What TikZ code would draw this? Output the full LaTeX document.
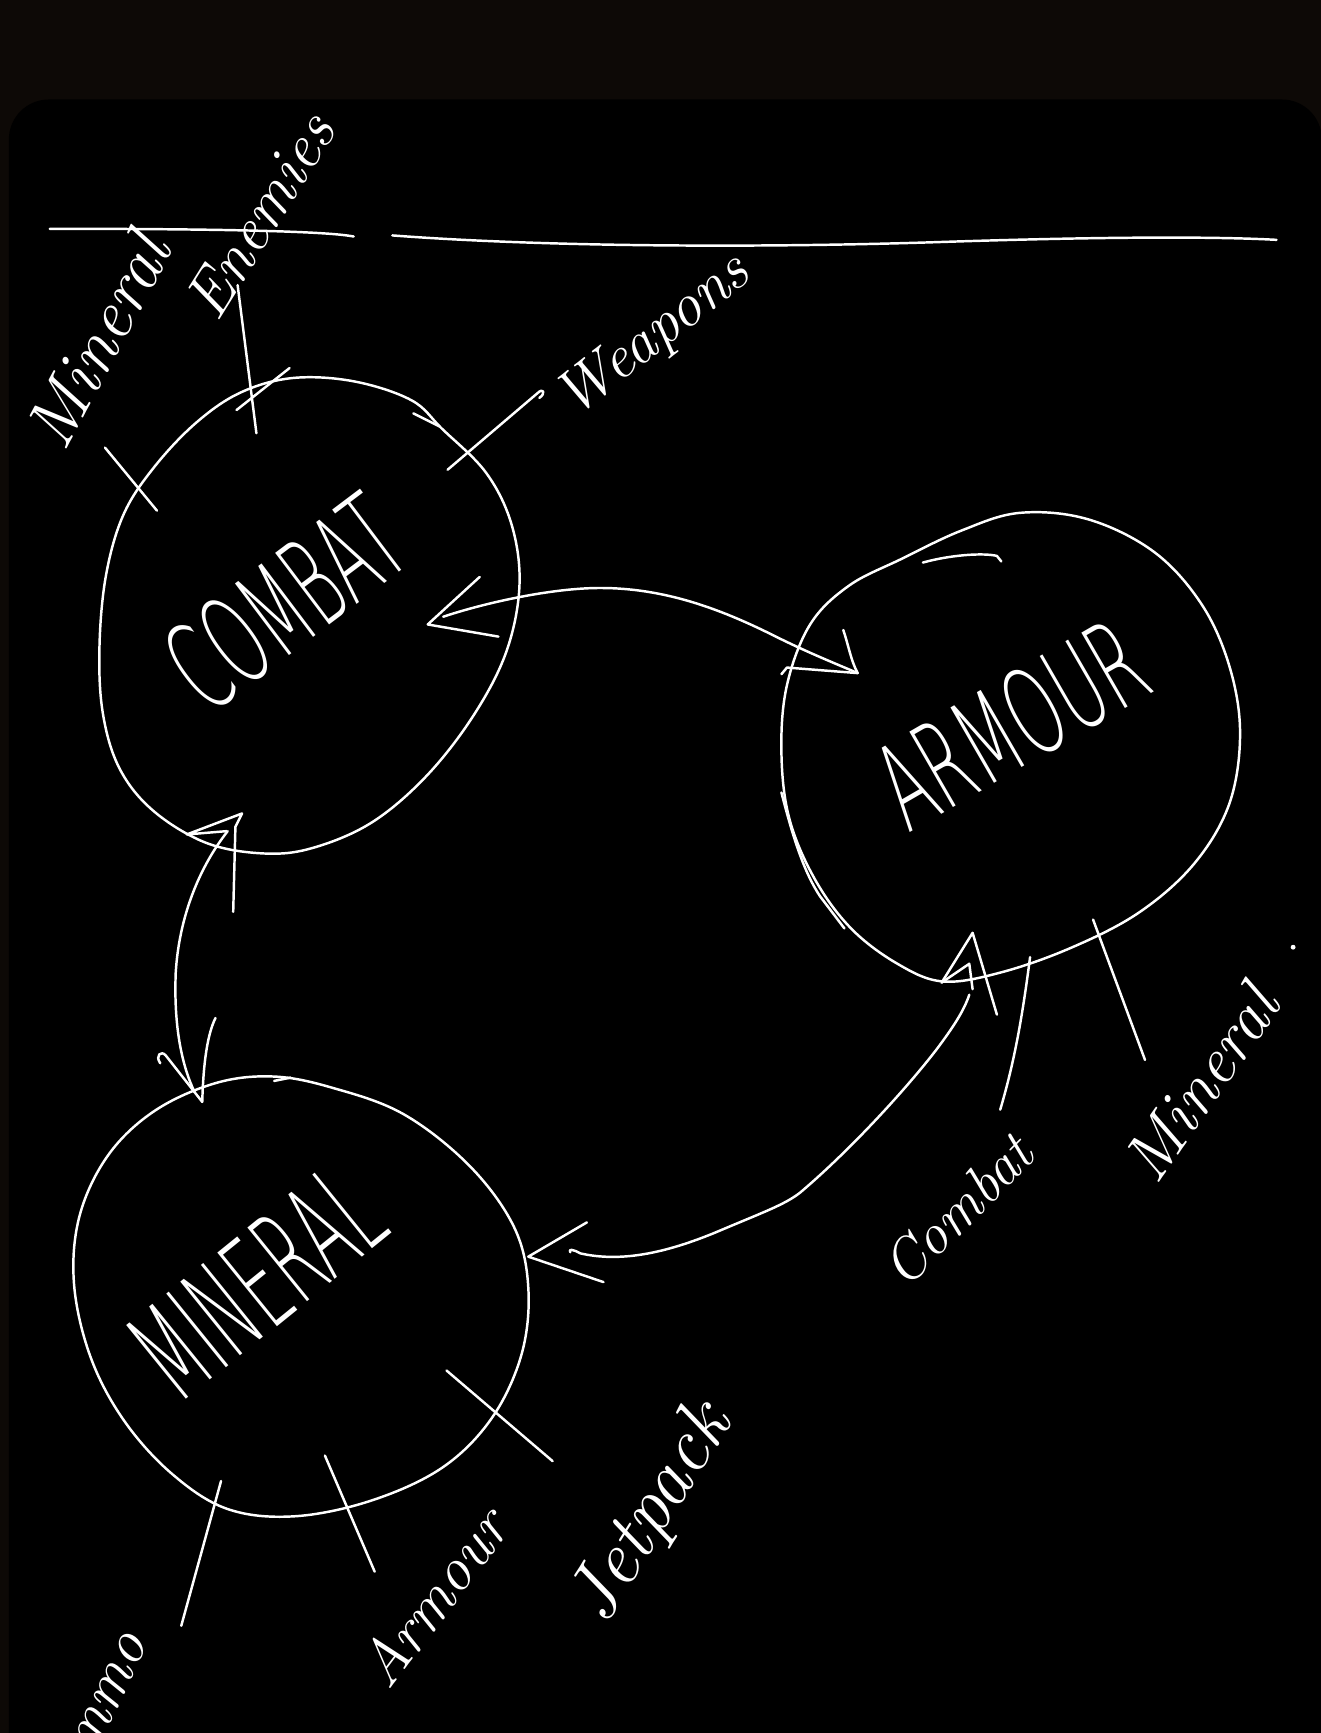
\documentclass[tikz,border=0pt]{standalone}
\usepackage{fontspec}
\usepackage{graphicx}
\newfontfamily\thinsans{DejaVu Sans ExtraLight}
\definecolor{outerbg}{RGB}{13,9,6}
\tikzset{
  ink/.style={draw=white, line width=1.4pt, line cap=round, line join=round},
  capword/.style={text=white, inner sep=0pt, font=\thinsans},
  hand/.style={text=white, inner sep=0pt, font=\itshape},
}
\newcommand{\cw}[3]{\scalebox{#2}[1]{\fontsize{#1}{#1}\selectfont #3}}
\begin{document}
\begin{tikzpicture}[x=0.022108cm,y=-0.022108cm]
\useasboundingbox (0,0) rectangle (1195,1568);
\clip (0,0) rectangle (1195,1568);
\fill[outerbg] (0,0) rectangle (1195,1568);
\fill[black, rounded corners=0.8cm] (8,90) rectangle (1196,1700);

% ---------- main word nodes ----------
\node[capword, rotate=37] (combat) at (258,545) {\cw{70}{0.5}{COMBAT}};
\node[capword, rotate=30] (armour) at (915,655) {\cw{68}{0.54}{ARMOUR}};
\node[capword, rotate=39] (mineral) at (232,1160) {\cw{74}{0.48}{MINERAL}};

% ---------- labels ----------
\node[hand, rotate=62] (lMinTL) at (88,308) {\cw{40}{1}{Mineral}};
\node[hand, rotate=58] (lEnem) at (235,195) {\cw{36}{1}{Enemies}};
\node[hand, rotate=38] (lWeap) at (592,305) {\cw{35}{1}{Weapons}};
\node[hand, rotate=45] (lComb) at (866,1095) {\cw{33}{1}{Combat}};
\node[hand, rotate=55] (lMinR) at (1086,980) {\cw{38}{1}{Mineral}};
\node[hand, rotate=53] (lArm) at (392,1445) {\cw{35}{1}{Armour}};
\node[hand, rotate=58] (lJet) at (590,1370) {\cw{44}{1}{Jetpack}};
\node[hand, rotate=65] (lAmmo) at (84,1548) {\cw{35}{1}{Ammo}};

% ---------- top rule ----------
\draw[ink] (45,207) .. controls (150,207) and (290,208) .. (320,214);
\draw[ink] (355,213) .. controls (500,224) and (700,224) .. (850,219)
           .. controls (1000,214) and (1100,214) .. (1155,217);

% ---------- blobs ----------
\draw[ink] plot[smooth cycle, tension=0.6] coordinates {
 (265,342) (320,345) (372,362) (400,388) (440,428) (463,475) (470,530)
 (458,590) (428,648) (385,703) (335,745) (280,768) (235,772) (185,762)
 (138,733) (108,695) (93,645) (90,585) (96,520) (112,465) (140,422)
 (178,382) (218,355)};
\draw[ink] plot[smooth cycle, tension=0.6] coordinates {
 (923,464) (985,470) (1045,500) (1088,548) (1113,605) (1122,665)
 (1112,728) (1080,782) (1030,826) (968,858) (905,880) (853,888)
 (812,872) (770,840) (737,795) (714,740) (707,680) (712,620) (733,565)
 (768,530) (815,506) (870,480)};
\draw[ink] plot[smooth cycle, tension=0.6] coordinates {
 (247,974) (300,984) (365,1008) (425,1055) (465,1110) (478,1165)
 (472,1225) (445,1283) (400,1328) (335,1358) (265,1372) (205,1365)
 (155,1333) (112,1285) (82,1228) (67,1162) (72,1100) (98,1045)
 (140,1005) (195,980)};

% extra strokes on blobs
\draw[ink] (374,374) -- (398,386);
\draw[ink] (835,509) .. controls (860,502) and (890,500) .. (902,503) -- (906,508);
\draw[ink] (707,717) .. controls (718,760) and (728,790) .. (742,811) -- (764,840);
\draw[ink] (248,978) -- (263,975);

% ---------- label ticks ----------
\coordinate (tMinA) at (95,405);   \coordinate (tMinB) at (142,462);
\draw[ink] (tMinA) -- (tMinB);
\coordinate (tEnA) at (215,258);   \coordinate (tEnB) at (232,392);
\draw[ink] (tEnA) -- (tEnB);
\draw[ink] (214,371) -- (262,333);
\coordinate (tWeA) at (486,356);   \coordinate (tWeB) at (405,425);
\draw[ink] (tWeB) -- (tWeA) .. controls (492,350) and (494,356) .. (488,360);
\coordinate (tCoA) at (932,866);   \coordinate (tCoB) at (905,1004);
\draw[ink] (tCoA) .. controls (925,920) and (918,960) .. (tCoB);
\coordinate (tMrA) at (989,832);   \coordinate (tMrB) at (1036,959);
\draw[ink] (tMrA) -- (tMrB);
\fill[white] (1170,857) circle (2.2);
\coordinate (tAmA) at (200,1340);  \coordinate (tAmB) at (164,1471);
\draw[ink] (tAmA) -- (tAmB);
\coordinate (tArA) at (294,1317);  \coordinate (tArB) at (339,1422);
\draw[ink] (tArA) -- (tArB);
\coordinate (tJeA) at (404,1240);  \coordinate (tJeB) at (500,1322);
\draw[ink] (tJeA) -- (tJeB);

% ---------- connector COMBAT <-> ARMOUR ----------
\coordinate (caTip) at (387,565);
\coordinate (acTip) at (776,609);
\draw[ink] (401,558) .. controls (440,545) and (500,532) .. (543,532)
           .. controls (600,532) and (650,550) .. (700,575)
           .. controls (730,590) and (755,600) .. (acTip);
\draw[ink] (434,522) -- (caTip) -- (451,576);
\draw[ink] (763,570) .. controls (768,585) and (770,598) .. (acTip) -- (712,604) -- (707,610);

% ---------- connector COMBAT <-> MINERAL ----------
\coordinate (cmTip) at (219,736);
\coordinate (mcTip) at (183,997);
\draw[ink] (206,752) .. controls (180,785) and (162,830) .. (159,880)
           .. controls (157,930) and (165,965) .. (176,988);
\draw[ink] (205,752) -- (169,755) -- (cmTip) -- (213,748) -- (211,825);
\draw[ink] (145,962) .. controls (140,955) and (146,950) .. (150,955)
           -- (mcTip) .. controls (184,960) and (188,935) .. (195,921);

% ---------- connector ARMOUR <-> MINERAL ----------
\coordinate (mnTip) at (478,1137);
\coordinate (anTip) at (880,844);
\draw[ink] (516,1133) .. controls (514,1130) and (518,1130) .. (525,1134)
           .. controls (560,1142) and (600,1135) .. (650,1114)
           .. controls (690,1097) and (710,1090) .. (724,1079)
           .. controls (770,1040) and (820,985) .. (847,950)
           .. controls (862,930) and (872,915) .. (877,900);
\draw[ink] (531,1106) -- (mnTip) -- (546,1160);
\draw[ink] (852,889) -- (anTip) -- (902,918);
\draw[ink] (852,889) -- (877,872) -- (880,895);
\end{tikzpicture}
\end{document}
